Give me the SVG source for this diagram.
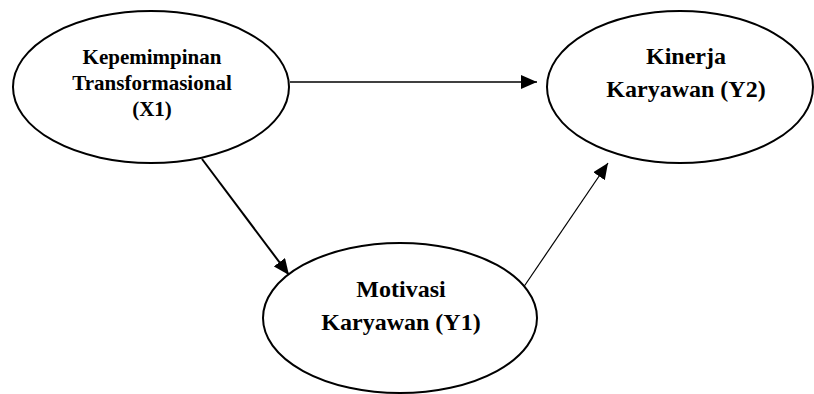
<svg xmlns="http://www.w3.org/2000/svg" width="814" height="394" viewBox="0 0 814 394">
<style>
.node{fill:#fff;stroke:#000;stroke-width:2}
text{font-family:'Times New Roman','Liberation Serif',Tinos,serif;font-weight:bold;text-anchor:middle;fill:#000}
.s{font-size:21px}
.b{font-size:24px}
.c{fill:none;stroke:#000}
</style>
<defs>
<marker id="ah" viewBox="0 0 16 14" refX="16" refY="7" markerWidth="16" markerHeight="14" markerUnits="userSpaceOnUse" orient="auto">
<path d="M0,0 L16,7 L0,14 Z" fill="#000"/>
</marker>
</defs>
<g id="connectors">
<line class="c" x1="290" y1="82" x2="537" y2="82" stroke-width="1.5" marker-end="url(#ah)"/>
<line class="c" x1="202" y1="159" x2="289" y2="275" stroke-width="2" marker-end="url(#ah)"/>
<line class="c" x1="523" y1="288" x2="608" y2="163" stroke-width="1.2" marker-end="url(#ah)"/>
</g>
<g id="x1">
<ellipse class="node" cx="151" cy="87" rx="138" ry="76"/>
<text class="s" x="152" y="64">Kepemimpinan</text>
<text class="s" x="152" y="90">Transformasional</text>
<text class="s" x="152" y="116">(X1)</text>
</g>
<g id="y2">
<ellipse class="node" cx="680" cy="87" rx="133" ry="76" stroke-width="1.5"/>
<text class="b" x="686" y="64">Kinerja</text>
<text class="b" x="686" y="97">Karyawan (Y2)</text>
</g>
<g id="y1">
<ellipse class="node" cx="400" cy="318" rx="137" ry="75"/>
<text class="b" x="401" y="297">Motivasi</text>
<text class="b" x="401" y="330">Karyawan (Y1)</text>
</g>
</svg>
